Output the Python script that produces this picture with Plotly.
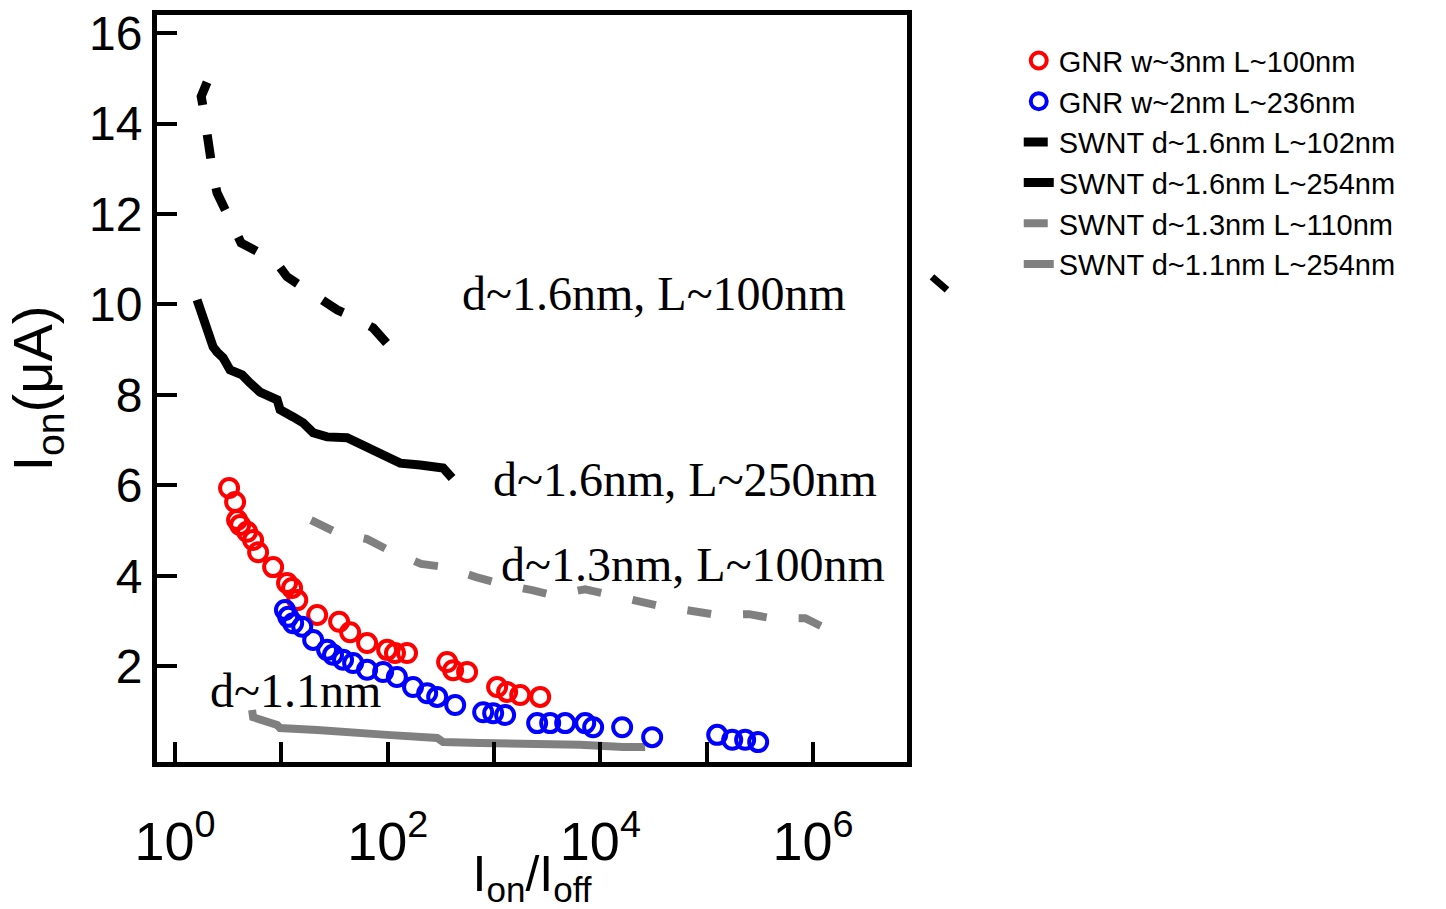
import math
import plotly.graph_objects as go

# GNR devices (open circles): on/off ratio vs on-current (uA)
gnr_w3_ratio = [3.22, 3.67, 3.83, 4.09, 4.76, 5.42, 6.04, 8.36, 11.3, 12.6, 14.1, 21.7,
                34.9, 44.3, 64.0, 98.7, 117, 152, 362, 412, 558, 1069, 1327, 1762, 2716]
gnr_w3_ion = [5.94, 5.63, 5.23, 5.12, 4.97, 4.79, 4.52, 4.19, 3.84, 3.73, 3.46, 3.13,
              2.98, 2.75, 2.51, 2.36, 2.29, 2.29, 2.09, 1.91, 1.87, 1.54, 1.43, 1.36, 1.32]

gnr_w2_ratio = [10.8, 11.6, 12.9, 15.7, 19.9, 26.9, 30.6, 38.0, 47.3, 64.0, 90.5, 122,
                173, 235, 292, 431, 790, 981, 1271, 2543, 3373, 4667, 7199, 8554,
                16030, 30700, 125600, 173800, 230000, 305000]
gnr_w2_ion = [3.24, 3.09, 2.95, 2.87, 2.58, 2.36, 2.25, 2.14, 2.07, 1.92, 1.87, 1.76,
              1.54, 1.40, 1.32, 1.14, 0.98, 0.96, 0.92, 0.74, 0.74, 0.74, 0.74, 0.65,
              0.65, 0.43, 0.48, 0.37, 0.37, 0.32]

# SWNT simulations (lines)
swnt16_l102_ratio = [2.00, 1.76, 1.83, 1.91, 2.09, 2.18, 2.28, 2.48, 3.02, 3.59, 4.18,
                     6.04, 8.36, 11.3, 15.0, 20.8, 33.4, 49.3, 72.9, 105]
swnt16_l102_ion = [14.91, 14.60, 14.38, 14.04, 13.64, 13.24, 12.87, 12.47, 12.05, 11.69,
                   11.36, 11.16, 11.03, 10.61, 10.41, 10.21, 9.88, 9.70, 9.48, 9.06]

swnt16_l254_ratio = [1.61, 1.72, 1.91, 2.13, 2.28, 2.48, 2.83, 3.29, 3.67, 4.27, 5.08,
                     6.31, 9.12, 9.72, 12.9, 16.0, 19.9, 26.9, 41.5, 64.0, 98.7, 131,
                     202, 332, 403]
swnt16_l254_ion = [10.10, 9.88, 9.59, 9.28, 9.06, 8.95, 8.82, 8.55, 8.48, 8.44, 8.26,
                   8.06, 7.89, 7.67, 7.51, 7.38, 7.16, 7.07, 7.05, 6.85, 6.63, 6.49,
                   6.45, 6.38, 6.16]

swnt13_l110_ratio = [19.0, 30.6, 64.0, 101, 206, 347, 679, 1140, 2282, 3520, 7200, 12100,
                     23700, 39800, 73100, 125600, 251000, 405000, 845000, 1250000]
swnt13_l110_ion = [5.23, 4.99, 4.81, 4.57, 4.26, 4.19, 3.97, 3.82, 3.68, 3.57, 3.70, 3.57,
                   3.40, 3.31, 3.22, 3.13, 3.15, 3.06, 3.06, 2.86]

swnt11_l254_ratio = [5.30, 5.42, 9.12, 9.72, 21.7, 58.7, 98.7, 292, 332, 740, 2187,
                     6457, 16400, 26400]
swnt11_l254_ion = [1.03, 0.87, 0.70, 0.63, 0.59, 0.54, 0.48, 0.41, 0.32, 0.30, 0.30,
                   0.26, 0.21, 0.21]

# Curve labels: (text, on/off ratio at left edge, on-current)
curve_labels = [
    ("d~1.6nm, L~100nm", 480, 10.25),
    ("d~1.6nm, L~250nm", 940, 6.12),
    ("d~1.3nm, L~100nm", 1120, 4.24),
    ("d~1.1nm", 2.05, 1.47),
]

x_decades = [0, 1, 2, 3, 4, 5, 6]
x_ticktext = ["10<sup>%d</sup>" % d if d % 2 == 0 else "" for d in x_decades]
y_ticks = [2, 4, 6, 8, 10, 12, 14, 16]

SANS = "Liberation Sans, Arial, Helvetica, sans-serif"
SERIF = "Liberation Serif, Times New Roman, serif"
GRAY = "rgb(128,128,128)"

fig = go.Figure()

fig.add_trace(go.Scatter(x=swnt16_l102_ratio, y=swnt16_l102_ion, mode="lines",
                         name="SWNT d~1.6nm L~102nm", legendrank=3,
                         line=dict(color="black", width=9, dash="24px,30px")))
fig.add_trace(go.Scatter(x=swnt16_l254_ratio, y=swnt16_l254_ion, mode="lines",
                         name="SWNT d~1.6nm L~254nm", legendrank=4,
                         line=dict(color="black", width=9)))
fig.add_trace(go.Scatter(x=swnt13_l110_ratio, y=swnt13_l110_ion, mode="lines",
                         name="SWNT d~1.3nm L~110nm", legendrank=5,
                         line=dict(color=GRAY, width=8, dash="24px,32px")))
fig.add_trace(go.Scatter(x=swnt11_l254_ratio, y=swnt11_l254_ion, mode="lines",
                         name="SWNT d~1.1nm L~254nm", legendrank=6,
                         line=dict(color=GRAY, width=8)))
fig.add_trace(go.Scatter(x=gnr_w3_ratio, y=gnr_w3_ion, mode="markers",
                         name="GNR w~3nm L~100nm", legendrank=1,
                         marker=dict(symbol="circle-open", size=18, color="red",
                                     line=dict(width=4, color="red"))))
fig.add_trace(go.Scatter(x=gnr_w2_ratio, y=gnr_w2_ion, mode="markers",
                         name="GNR w~2nm L~236nm", legendrank=2,
                         marker=dict(symbol="circle-open", size=18, color="blue",
                                     line=dict(width=4, color="blue"))))

# annotations on a log axis take log10 positions
for text, x, y in curve_labels:
    fig.add_annotation(x=math.log10(x), y=y, xref="x", yref="y", text=text,
                       showarrow=False, xanchor="left", yanchor="middle",
                       font=dict(family=SERIF, size=48, color="black"))

# short stray dash segment right of the frame
fig.add_shape(type="line", xref="paper", yref="paper",
              x0=1.0333, y0=0.6493, x1=1.0533, y1=0.6319,
              line=dict(color="black", width=7))

fig.update_layout(
    width=1446, height=909,
    margin=dict(l=157, r=539, t=15, b=147, autoexpand=False),
    paper_bgcolor="white", plot_bgcolor="white",
    font=dict(family=SANS, color="black"),
    showlegend=True,
    legend=dict(x=1.149, y=0.973, xanchor="left", yanchor="top",
                bgcolor="rgba(0,0,0,0)", borderwidth=0,
                font=dict(family=SANS, size=29, color="black")),
    xaxis=dict(type="log", range=[-0.17, 6.884], automargin=False,
               tickmode="array", tickvals=[10 ** d for d in x_decades],
               ticktext=x_ticktext,
               ticks="inside", ticklen=20, tickwidth=4, tickcolor="black",
               ticklabelstandoff=28,
               tickfont=dict(family=SANS, size=54),
               showline=True, linewidth=5, linecolor="black", mirror=True,
               showgrid=False, zeroline=False,
               title=dict(text="I<sub>on</sub>/I<sub>off</sub>",
                          font=dict(family=SANS, size=50), standoff=0)),
    yaxis=dict(range=[-0.12, 16.4], automargin=False,
               tickmode="array", tickvals=y_ticks,
               ticks="inside", ticklen=20, tickwidth=4, tickcolor="black",
               tickfont=dict(family=SANS, size=48),
               showline=True, linewidth=5, linecolor="black", mirror=True,
               showgrid=False, zeroline=False,
               title=dict(text="I<sub>on</sub>(μA)",
                          font=dict(family=SANS, size=56), standoff=20)),
)

fig.write_html("out.html")
